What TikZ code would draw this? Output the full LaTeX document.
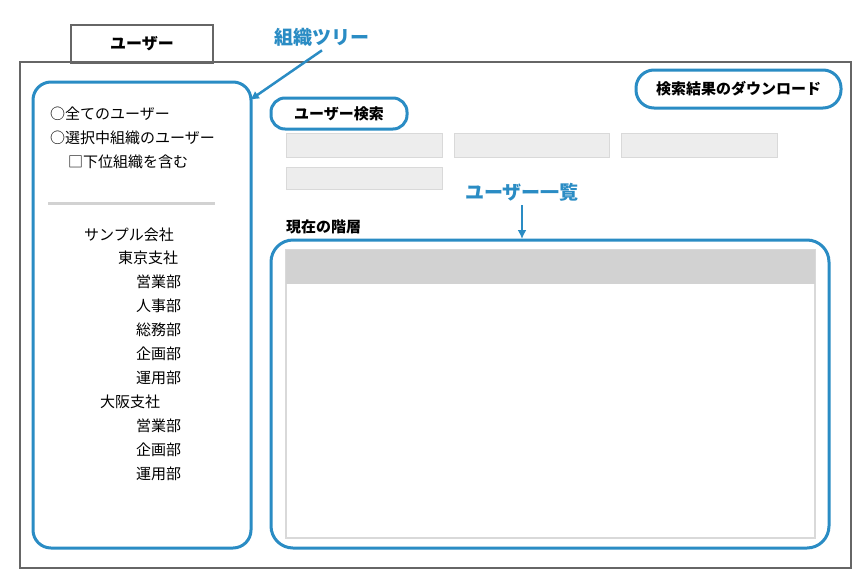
\documentclass[tikz,border=0pt]{standalone}
\usepackage{fontspec}
\setmainfont{Noto Sans CJK JP}
\usetikzlibrary{arrows.meta}
\begin{document}
\begin{tikzpicture}[x=1pt,y=-1pt,
  blue/.style={draw=bl,line width=3pt,rounded corners=18pt},
  fld/.style={draw=gray!30,fill=gray!14,line width=1pt},
  txt/.style={anchor=west,inner sep=0pt,font=\fontsize{15}{15}\selectfont},
  btxt/.style={inner sep=0pt,font=\fontsize{15}{15}\selectfont\bfseries},
  lbl/.style={inner sep=0pt,text=bl,font=\fontsize{19}{19}\selectfont\bfseries},
  arr/.style={draw=bl,line width=2.5pt,-{Latex[length=9pt,width=9pt]}}]
\definecolor{bl}{HTML}{2A8CC4}
\useasboundingbox (0,0) rectangle (868,579);
\fill[white] (0,0) rectangle (868,579);
\node[draw=gray!80!black,line width=2pt,minimum width=142pt,minimum height=38pt,font=\fontsize{16}{16}\selectfont\bfseries] (tab) at (142,44) {ユーザー};
\draw[gray!80!black,line width=2pt] (20,62) rectangle (851,568);
\draw[blue] (33,82) rectangle (251,548);
\node[lbl] (org) at (322,37) {組織ツリー};
\coordinate (orgt) at (250,100);
\draw[arr] (org.south) ++(0,4) -- (orgt);
\node[txt] (a1) at (50,114) {○全てのユーザー};
\node[txt] (a2) at (50,138) {○選択中組織のユーザー};
\node[txt] (a3) at (68,162) {□下位組織を含む};
\draw[gray!35,line width=3pt] (48,203) -- (215,203);
\node[txt] (t1) at (84,235) {サンプル会社};
\node[txt] (t2) at (118,258) {東京支社};
\node[txt] (t3) at (136,282) {営業部};
\node[txt] (t4) at (136,306) {人事部};
\node[txt] (t5) at (136,330) {総務部};
\node[txt] (t6) at (136,354) {企画部};
\node[txt] (t7) at (136,378) {運用部};
\node[txt] (t8) at (100,402) {大阪支社};
\node[txt] (t9) at (136,426) {営業部};
\node[txt] (t10) at (136,450) {企画部};
\node[txt] (t11) at (136,474) {運用部};
\draw[blue] (636,70) rectangle (841,108);
\node[btxt] (dl) at (738.5,89) {検索結果のダウンロード};
\draw[blue,rounded corners=14pt] (271,98) rectangle (407,129);
\node[btxt] (us) at (339,114) {ユーザー検索};
\draw[fld] (286,133) rectangle (442,157);
\draw[fld] (454,133) rectangle (609,157);
\draw[fld] (621,133) rectangle (777,157);
\draw[fld] (286,167) rectangle (442,189);
\node[lbl] (ul) at (522,192) {ユーザー一覧};
\coordinate (ult) at (522,239);
\draw[arr] (ul.south) ++(0,4) -- (ult);
\node[btxt,anchor=west] (cur) at (286,227) {現在の階層};
\draw[blue,rounded corners=22pt] (271,240) rectangle (829,548);
\draw[gray!30,line width=1.5pt] (286,250) rectangle (815,538);
\fill[gray!35] (286,250) rectangle (815,284);
\end{tikzpicture}
\end{document}
